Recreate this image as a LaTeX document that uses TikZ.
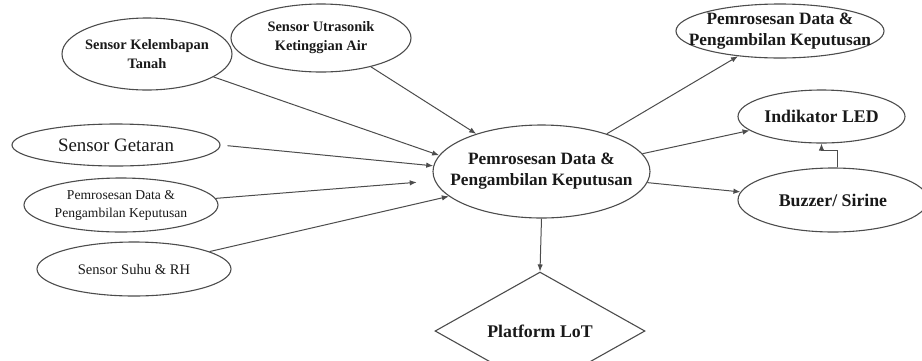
\documentclass[tikz,border=0pt]{standalone}
\usepackage{fontspec}
\setmainfont{Liberation Serif}
\usetikzlibrary{shapes.geometric,arrows.meta}
\begin{document}
\begin{tikzpicture}[x=1pt,y=-1pt,
  ell/.style={ellipse,draw=black!70,line width=1.1pt,inner xsep=-30pt,inner ysep=-6pt,align=center,text=black!90},
  arr/.style={draw=black!70,line width=1pt,-{Latex[length=7pt,width=5.5pt]}},
  bA/.style={font=\fontsize{17.3}{21}\selectfont\bfseries},
  bB/.style={font=\fontsize{14.4}{19}\selectfont\bfseries},
  bC/.style={font=\fontsize{17.8}{21}\selectfont\bfseries},
  rA/.style={font=\fontsize{13.6}{18}\selectfont},
  rB/.style={font=\fontsize{14.6}{18}\selectfont},
  rC/.style={font=\fontsize{18.9}{22}\selectfont}]
\useasboundingbox (0,0) rectangle (922,360);
\begin{scope}
\clip (0,0) rectangle (922,360);
\node[ell,bB,minimum width=170pt,minimum height=72pt] (kel) at (147,54) {Sensor Kelembapan\\Tanah};
\node[ell,bB,minimum width=180pt,minimum height=68pt] (utr) at (321,38) {Sensor Utrasonik\\Ketinggian Air};
\node[ell,rC,minimum width=208pt,minimum height=42pt] (get) at (116,145) {Sensor Getaran};
\node[ell,rA,minimum width=194pt,minimum height=54pt] (pem) at (121,205) {Pemrosesan Data \&\\Pengambilan Keputusan};
\node[ell,rB,minimum width=194pt,minimum height=54pt] (suh) at (134,269) {Sensor Suhu \& RH};
\node[ell,bA,minimum width=217pt,minimum height=93pt] (cen) at (541.5,171.5) {Pemrosesan Data \&\\Pengambilan Keputusan};
\node[ell,bA,minimum width=208pt,minimum height=54pt] (out) at (780,31) {Pemrosesan Data \&\\Pengambilan Keputusan};
\node[ell,bC,minimum width=167pt,minimum height=53pt] (led) at (821.5,116.5) {Indikator LED};
\node[ell,bC,minimum width=190pt,minimum height=64pt] (buz) at (833,200) {Buzzer/ Sirine};
\node[diamond,draw=black!70,line width=1.1pt,inner sep=0pt,bC,text=black!90,minimum width=210pt,minimum height=72pt] (plat) at (540,331) {Platform LoT};
\draw[arr] (kel.-19) -- (cen.171);
\draw[arr] (utr.-30) -- (cen.150);
\draw[arr,shorten <=7pt] (get.east) -- (cen.177);
\draw[arr,shorten >=18pt] (pem.4) -- (cen.185);
\draw[arr] (suh.13) -- (cen.195);
\draw[arr] (cen.30) -- (out.211);
\draw[arr] (cen.10) -- (led.191);
\draw[arr] (cen.-6) -- (buz.175);
\draw[arr] (cen.south) -- (plat.north);
\draw[arr] ([xshift=4pt]buz.north) -- ++(0,-17) -| (led.south);
\end{scope}
\end{tikzpicture}
\end{document}
